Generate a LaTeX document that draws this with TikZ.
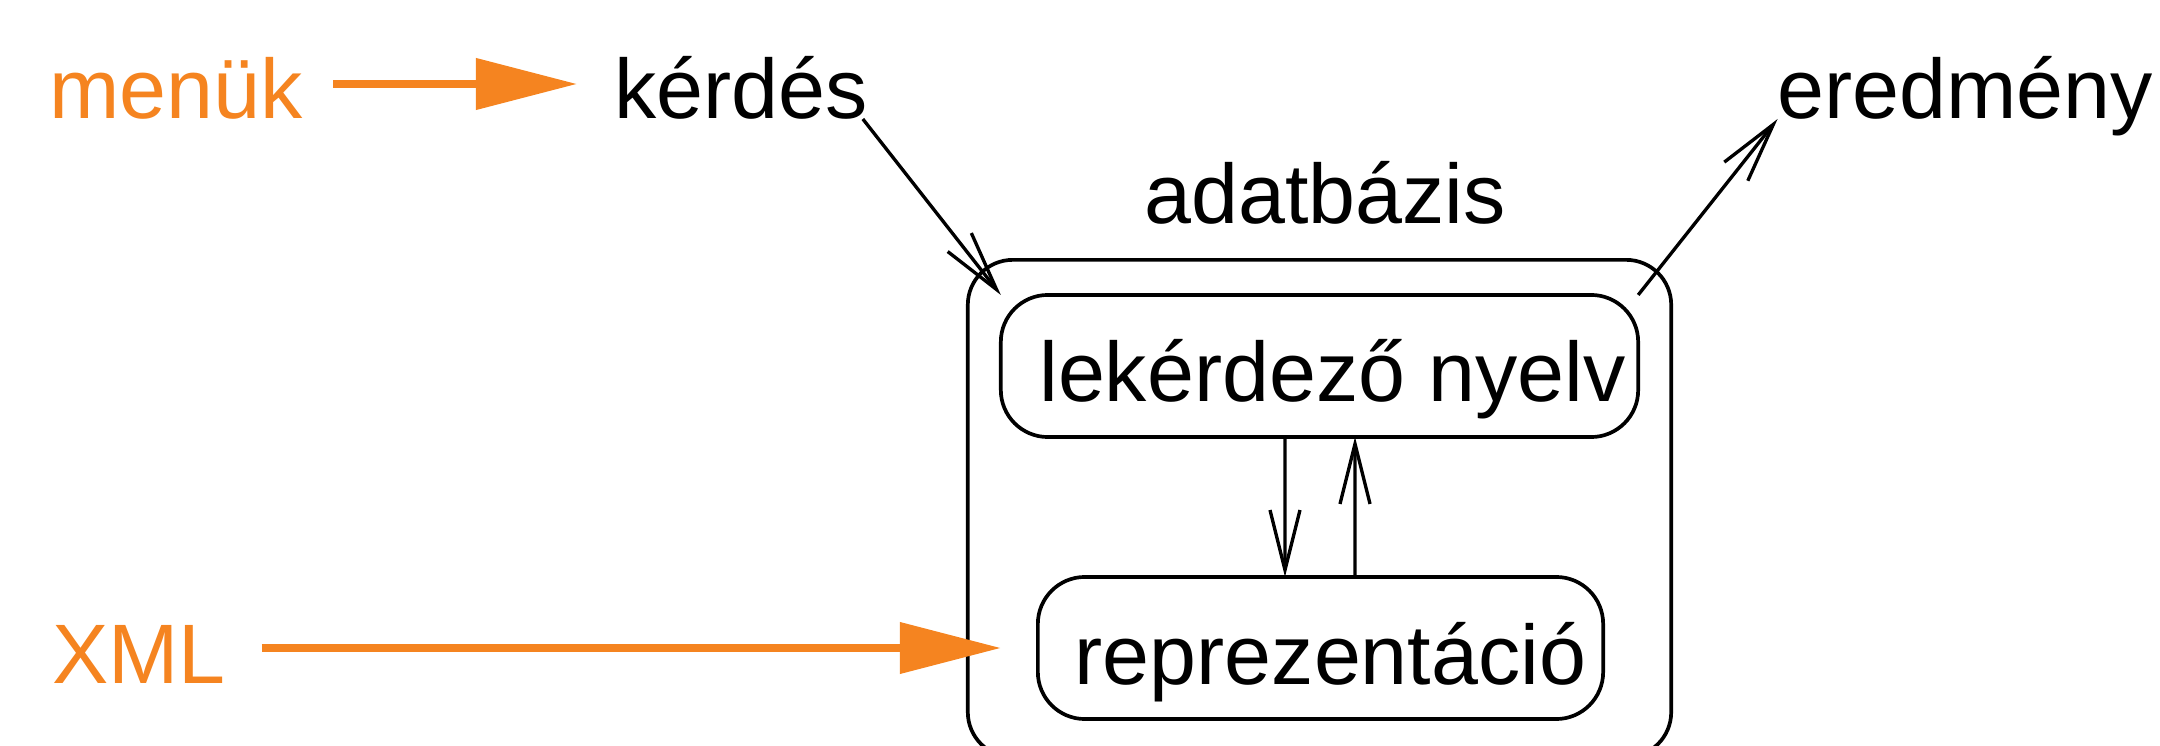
\documentclass[tikz,border=0pt]{standalone}
\usepackage{fontspec}
\setmainfont{Liberation Sans}
\usetikzlibrary{arrows.meta}
\definecolor{orng}{HTML}{F58420}
\begin{document}
\begin{tikzpicture}[x=0.01cm,y=-0.01cm,
  font=\fontsize{24pt}{28pt}\selectfont,
  every node/.style={inner sep=0pt,outer sep=0pt},
  lbl/.style={},
  boxnode/.style={draw=black,line width=1.05pt,rounded corners=0.47cm},
  orarrow/.style={draw=orng,line width=2.1pt,-{Triangle[length=1.01cm,width=0.5cm]}},
  barrow/.style={draw=black,line width=0.95pt,-{Straight Barb[length=0.6cm,width=0.3cm]}}]
\useasboundingbox (0,0) rectangle (2160,746);
% outer database box
\node[boxnode,rounded corners=0.45cm,minimum width=7.03cm,minimum height=4.97cm] (db) at (1319.5,508.5) {};
\node[lbl,anchor=base] (adat) at (1325,224) {adatbázis};
% inner boxes
\node[boxnode,minimum width=6.37cm,minimum height=1.42cm,text height=0.70cm,text depth=0cm] (lek) at (1319.5,366) {\hspace*{0.26cm}lekérdező nyelv};
\node[boxnode,minimum width=5.65cm,minimum height=1.42cm,text height=0.72cm,text depth=0cm] (repr) at (1320.5,648) {\hspace*{0.20cm}reprezentáció};
% labels
\node[lbl,anchor=base west,text=orng] (menuk) at (49,119) {menük};
\node[lbl,anchor=base west] (kerdes) at (614.5,119) {kérdés};
\node[lbl,anchor=base west] (ered) at (1777.6,119) {eredmény};
\node[lbl,anchor=base west,text=orng] (xml) at (52,683) {XML};
% orange arrows
\draw[orarrow] ([shift={(31,-35)}]menuk.base east) -- ([shift={(-37.5,-35)}]kerdes.base west);
\draw[orarrow] ([shift={(36,-35)}]xml.base east) -- ([xshift=-0.37cm]repr.west);
% black arrows
\draw[barrow] ([xshift=-0.05cm]kerdes.base east) -- (lek.north west);
\draw[barrow] (lek.north east) -- (ered.base west);
\draw[barrow] ([xshift=-0.345cm]lek.south) -- ([xshift=-0.355cm]repr.north);
\draw[barrow] ([xshift=0.345cm]repr.north) -- ([xshift=0.355cm]lek.south);
\end{tikzpicture}
\end{document}
